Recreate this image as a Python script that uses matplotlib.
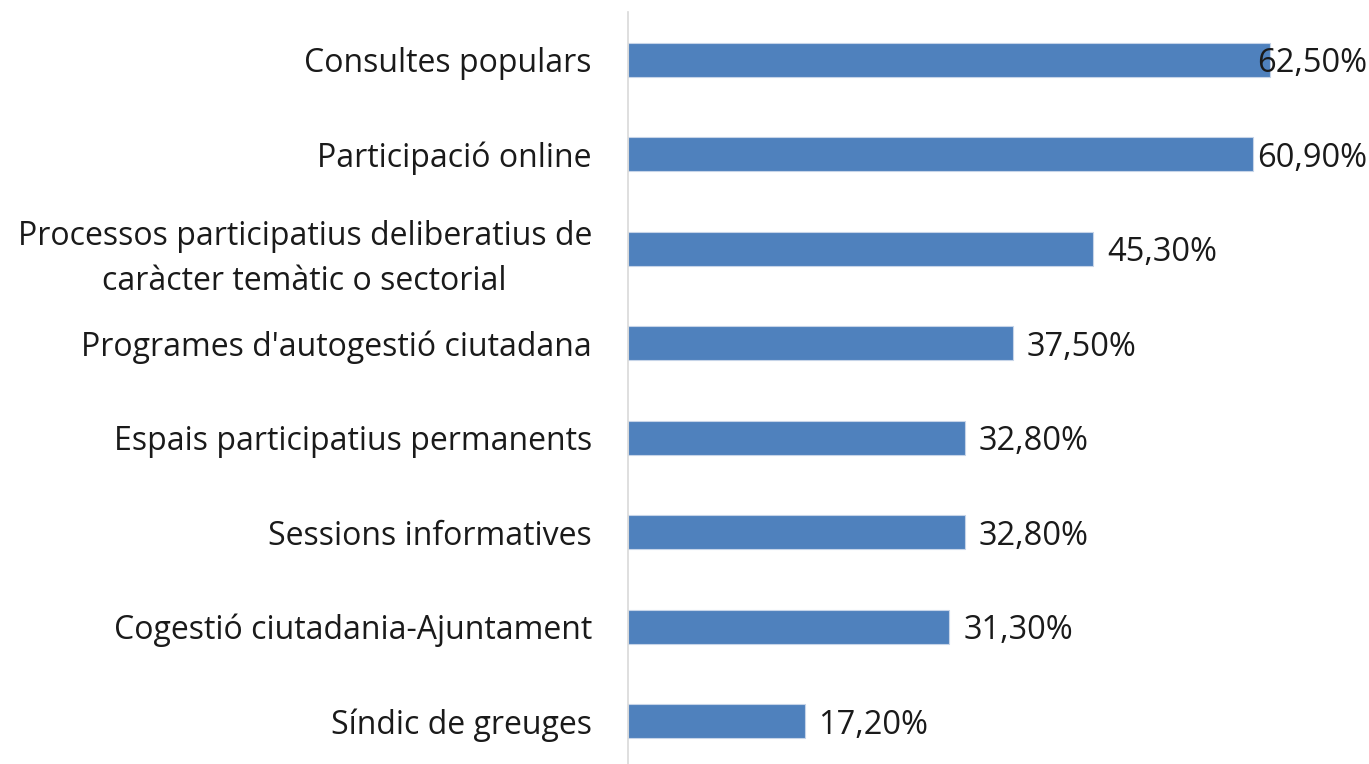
import matplotlib.pyplot as plt

# Dades
categories = [
    'Consultes populars',
    'Participació online',
    'Processos participatius deliberatius de\ncaràcter temàtic o sectorial',
    "Programes d'autogestió ciutadana",
    'Espais participatius permanents',
    'Sessions informatives',
    'Cogestió ciutadania-Ajuntament',
    'Síndic de greuges',
]
valors = [62.5, 60.9, 45.3, 37.5, 32.8, 32.8, 31.3, 17.2]
etiquetes = ['62,50%', '60,90%', '45,30%', '37,50%', '32,80%', '32,80%', '31,30%', '17,20%']

plt.rcParams['font.family'] = ['Open Sans', 'DejaVu Sans']

fig = plt.figure(figsize=(13.69, 7.64), dpi=100)
ax = fig.add_axes([628 / 1369, 0, 1 - 628 / 1369, 752 / 764])

pos = list(range(len(categories)))
ax.barh(pos, valors, height=0.36, color='#4F81BD', edgecolor='#C6D4E8', linewidth=0.8)
ax.set_xlim(0, 741 / 10.27)
ax.set_ylim(7.455, -0.508)

ax.set_yticks(pos)
ax.set_yticklabels(categories, fontsize=23, color='#1a1a1a', ha='right',
                   multialignment='center', linespacing=1.5)
ax.tick_params(axis='y', length=0, pad=26)
ax.set_xticks([])

for s in ['top', 'right', 'bottom']:
    ax.spines[s].set_visible(False)
ax.spines['left'].set_color('#D9D9D9')
ax.spines['left'].set_linewidth(1.2)

# Etiquetes de valor
for i, (v, t) in enumerate(zip(valors, etiquetes)):
    if v > 58:
        ax.text(0.998, i, t, transform=ax.get_yaxis_transform(), ha='right',
                va='center_baseline', fontsize=23.5, color='#1a1a1a')
    else:
        ax.text(v + 1.35, i, t, ha='left', va='center_baseline', fontsize=23.5,
                color='#1a1a1a')

fig.savefig('out.png', dpi=100)
